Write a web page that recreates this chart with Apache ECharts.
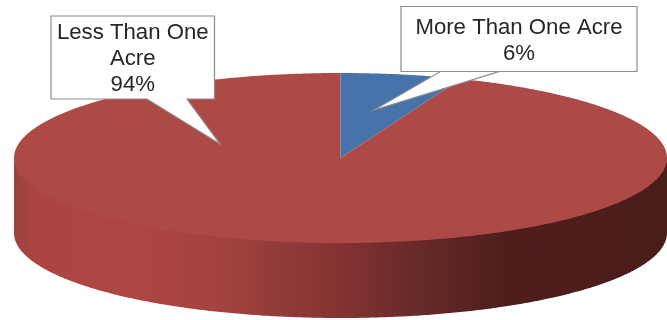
<!DOCTYPE html>
<html><head><meta charset="utf-8">
<style>html,body{margin:0;padding:0;background:#fff}#c{width:667px;height:320px}</style>
<script src="https://cdn.jsdelivr.net/npm/echarts@6/dist/echarts.min.js"></script>
</head><body><div id="c"></div>
<script>
const categories = ['More Than One Acre', 'Less Than One Acre'];
const values = [6, 94];
const labelLines = [['More Than One Acre'], ['Less Than One', 'Acre']];
const sliceColors = ['#4674AA', '#AE4A46'];

const PIE = { cx: 340.5, cy: 158, rx: 326.5, ry: 85, depth: 75 };
const BOXES = [
  { x: 401, y: 6.5, w: 236, h: 65, base: [[440.5, 71.5], [499, 71.5]], tip: [374, 110], dy: 1.5 },
  { x: 51, y: 16, w: 163.5, h: 83, base: [[187, 99], [147, 99]], tip: [220, 144], dy: 1 }
];
const total = values.reduce((a, b) => a + b, 0);

function rim(deg, dy) {
  const a = deg * Math.PI / 180;
  return [PIE.cx + PIE.rx * Math.sin(a), PIE.cy - PIE.ry * Math.cos(a) + (dy || 0)];
}
function arc(from, to, dy) {
  const pts = [];
  const n = Math.max(2, Math.ceil(Math.abs(to - from) * 2));
  for (let k = 0; k <= n; k++) pts.push(rim(from + (to - from) * k / n, dy));
  return pts;
}
function range(i) {
  let s = 0;
  for (let k = 0; k < i; k++) s += values[k];
  return [s / total * 360, (s + values[i]) / total * 360];
}
const sideFill = new echarts.graphic.LinearGradient(14, 0, 667, 0, [
  { offset: 0, color: '#9A4240' },
  { offset: 0.035, color: '#AC4442' },
  { offset: 0.2, color: '#AC4543' },
  { offset: 0.32, color: '#A34240' },
  { offset: 0.42, color: '#8F3A38' },
  { offset: 0.5, color: '#843331' },
  { offset: 0.62, color: '#662A28' },
  { offset: 0.75, color: '#4E1E1C' },
  { offset: 1, color: '#4A1C1A' }
], true);

function renderSide(params) {
  const [a, b] = range(params.dataIndex);
  const from = Math.max(a, 90), to = Math.min(b, 270);
  if (to <= from) return { type: 'group', children: [] };
  const pts = arc(from, to, -2).concat(arc(to, from, PIE.depth));
  return { type: 'polygon', shape: { points: pts }, style: { fill: sideFill } };
}
function renderTop(params) {
  const [a, b] = range(params.dataIndex);
  const pts = [[PIE.cx, PIE.cy]].concat(arc(a, b, 0));
  return { type: 'polygon', shape: { points: pts }, style: { fill: sliceColors[params.dataIndex] } };
}
function renderCallout(params, api) {
  const i = params.dataIndex, B = BOXES[i];
  const r = B.x + B.w, d = B.y + B.h;
  const pts = [[B.x, B.y], [r, B.y], [r, d], B.base[0], B.tip, B.base[1], [B.x, d]];
  const text = labelLines[i].concat(api.value(0) + '%').join('\n');
  return { type: 'group', children: [
    { type: 'polygon', shape: { points: pts }, style: { fill: '#fff', stroke: '#8C8C8C', lineWidth: 1.2, lineJoin: 'miter' } },
    { type: 'text', style: {
        x: B.x + B.w / 2, y: B.y + B.h / 2 + B.dy, text: text, align: 'center', verticalAlign: 'middle',
        font: '22.2px "Liberation Sans", Arial, sans-serif', lineHeight: 26, fill: '#262626' } }
  ] };
}
const chart = echarts.init(document.getElementById('c'), null, { renderer: 'canvas' });
const base = { type: 'custom', coordinateSystem: 'none', silent: true, animation: false,
  dimensions: ['value'], data: values.map(v => [v]) };
chart.setOption({
  animation: false,
  backgroundColor: '#fff',
  series: [
    Object.assign({}, base, { z: 1, renderItem: renderSide }),
    Object.assign({}, base, { z: 2, renderItem: renderTop }),
    Object.assign({}, base, { z: 3, renderItem: renderCallout })
  ]
});
</script></body></html>
